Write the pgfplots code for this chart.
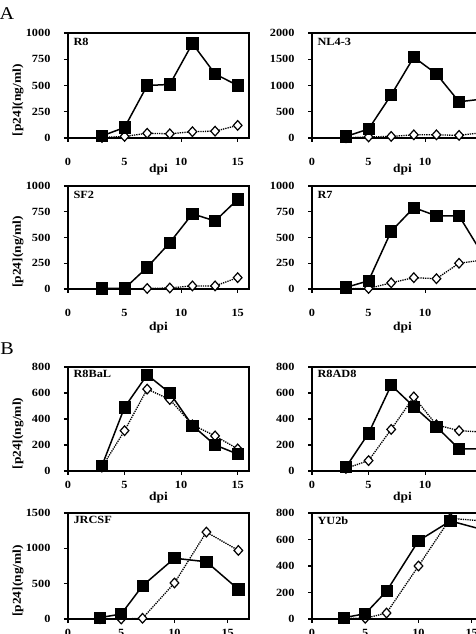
\documentclass[border=0pt]{standalone}
\usepackage{fontspec}
\setmainfont{Liberation Serif}[FakeStretch=1.12]
\usepackage{pgfplots}
\pgfplotsset{compat=1.18}

\newcommand{\tickfont}{\bfseries\fontsize{11bp}{12bp}\selectfont}

\pgfplotsset{
  panel/.style={
    scale only axis, width=181bp, anchor=south west,
    xmin=0, xmax=16, ymin=0, clip=false,
    axis line style={line width=1.4bp},
    every tick/.style={line width=1.2bp, black},
    tick align=outside, major tick length=4bp,
    xtick={0,5,10,15}, xtick pos=bottom, ytick pos=left,
    scaled ticks=false,
    ticklabel style={font=\tickfont},
    /pgf/number format/assume math mode=true,
    /pgf/number format/set thousands separator={},
    yticklabel style={xshift=-10bp},
    title style={at={(rel axis cs:0,1)}, anchor=north west, font=\tickfont, xshift=2bp},
    xlabel={dpi},
    xlabel style={font=\bfseries\fontsize{12bp}{13bp}\selectfont, anchor=center},
  },
  leftpanel/.style={
    ylabel={[p24](ng/ml)},
    ylabel style={at={([xshift=-50bp]rel axis cs:0,0.36)}, anchor=center,
      font=\bfseries\fontsize{12bp}{13bp}\selectfont},
  },
  groupA/.style={
    xticklabel style={yshift=-13bp},
    title style={yshift=-8bp},
  },
  groupB/.style={
    xticklabel style={yshift=-3bp},
    title style={yshift=-6bp},
    xlabel style={at={([yshift=-27bp]rel axis cs:0.5,0)}},
  },
  sq/.style={black, line width=1.5bp, mark=square*, mark size=5.6bp,
    mark options={solid, fill=black, line width=0.8bp}},
  dm/.style={black, line width=1.3bp, densely dotted, mark=diamond*, mark size=4.8bp,
    mark options={solid, fill=white, line width=1.2bp, xscale=1.2}},
}

\begin{document}
\begin{tikzpicture}
\useasboundingbox (0,0) rectangle (476bp,634bp);
\clip (0,0) rectangle (476bp,634bp);

\node[font=\fontsize{18bp}{18bp}\selectfont] at (7bp,620bp) {A};
\node[font=\fontsize{18bp}{18bp}\selectfont] at (7bp,285bp) {B};

% ---------- A: R8 ----------
\begin{axis}[panel, leftpanel, groupA, at={(68bp,496bp)}, height=105bp,
  ymax=1000, ytick={0,250,500,750,1000}, title={R8},
  xlabel style={at={([yshift=-32bp]rel axis cs:0.5,0)}}]
\addplot[dm] coordinates {(3,5)(5,15)(7,45)(9,40)(11,60)(13,65)(15,120)};
\addplot[sq] coordinates {(3,20)(5,100)(7,500)(9,510)(11,900)(13,610)(15,500)};
\end{axis}

% ---------- A: NL4-3 ----------
\begin{axis}[panel, groupA, at={(312bp,496bp)}, height=105bp,
  ymax=2000, ytick={0,500,1000,1500,2000}, title={NL4-3},
  xlabel style={at={([yshift=-32bp]rel axis cs:0.5,0)}}]
\addplot[dm] coordinates {(3,5)(5,20)(7,30)(9,60)(11,60)(13,50)(15,100)};
\addplot[sq] coordinates {(3,30)(5,170)(7,820)(9,1540)(11,1220)(13,690)(15,740)};
\end{axis}

% ---------- A: SF2 ----------
\begin{axis}[panel, leftpanel, groupA, at={(68bp,345bp)}, height=103bp,
  ymax=1000, ytick={0,250,500,750,1000}, title={SF2},
  xlabel style={at={([yshift=-39bp]rel axis cs:0.5,0)}}]
\addplot[dm] coordinates {(3,0)(5,0)(7,5)(9,10)(11,30)(13,30)(15,110)};
\addplot[sq] coordinates {(3,5)(5,5)(7,210)(9,450)(11,730)(13,660)(15,870)};
\end{axis}

% ---------- A: R7 ----------
\begin{axis}[panel, groupA, at={(312bp,345bp)}, height=103bp,
  ymax=1000, ytick={0,250,500,750,1000}, title={R7},
  xlabel style={at={([yshift=-39bp]rel axis cs:0.5,0)}}]
\addplot[dm] coordinates {(3,5)(5,5)(7,60)(9,110)(11,100)(13,250)(15,280)};
\addplot[sq] coordinates {(3,15)(5,80)(7,560)(9,790)(11,710)(13,710)(15,350)};
\end{axis}

% ---------- B: R8BaL ----------
\begin{axis}[panel, leftpanel, groupB, at={(68bp,163bp)}, height=104bp,
  ymax=800, ytick={0,200,400,600,800}, title={R8BaL}]
\addplot[dm] coordinates {(3,30)(5,310)(7,630)(9,550)(11,355)(13,270)(15,170)};
\addplot[sq] coordinates {(3,40)(5,490)(7,740)(9,600)(11,350)(13,200)(15,130)};
\end{axis}

% ---------- B: R8AD8 ----------
\begin{axis}[panel, groupB, at={(312bp,163bp)}, height=104bp,
  ymax=800, ytick={0,200,400,600,800}, title={R8AD8}]
\addplot[dm] coordinates {(3,20)(5,80)(7,320)(9,570)(11,355)(13,310)(15,300)};
\addplot[sq] coordinates {(3,30)(5,290)(7,660)(9,495)(11,340)(13,170)(15,170)};
\end{axis}

% ---------- B: JRCSF ----------
\begin{axis}[panel, leftpanel, groupB, at={(68bp,15bp)}, height=106bp, xmax=17,
  ymax=1500, ytick={0,500,1000,1500}, title={JRCSF}]
\addplot[dm] coordinates {(3,5)(5,0)(7,10)(10,510)(13,1230)(16,970)};
\addplot[sq] coordinates {(3,20)(5,70)(7,470)(10,860)(13,810)(16,420)};
\end{axis}

% ---------- B: YU2b ----------
\begin{axis}[panel, groupB, at={(312bp,15bp)}, height=106bp, xmax=17,
  ymax=800, ytick={0,200,400,600,800}, title={YU2b}]
\addplot[dm] coordinates {(3,5)(5,5)(7,45)(10,400)(13,760)(16,740)};
\addplot[sq] coordinates {(3,10)(5,40)(7,210)(10,590)(13,740)(16,675)};
\end{axis}
\end{tikzpicture}
\end{document}
